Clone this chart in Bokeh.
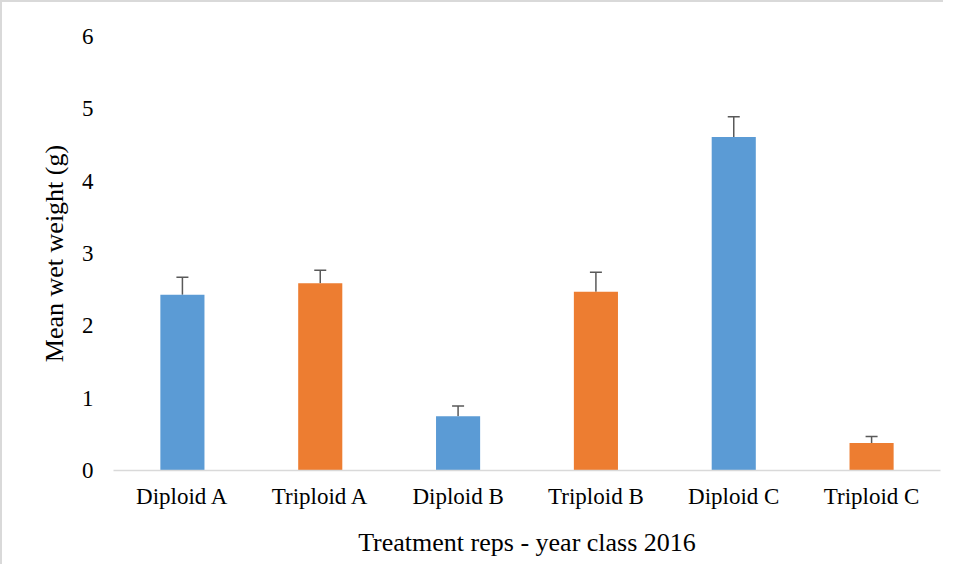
from bokeh.plotting import figure
from bokeh.models import ColumnDataSource, Range1d, Whisker, TeeHead, FixedTicker
from bokeh.embed import file_html
from bokeh.resources import INLINE

categories = ["Diploid A", "Triploid A", "Diploid B", "Triploid B", "Diploid C", "Triploid C"]
means = [2.43, 2.59, 0.75, 2.47, 4.61, 0.38]
errors = [0.24, 0.18, 0.14, 0.27, 0.28, 0.09]
colors = ["#5B9BD5", "#ED7D31", "#5B9BD5", "#ED7D31", "#5B9BD5", "#ED7D31"]
y_ticks = [0, 1, 2, 3, 4, 5, 6]

upper = [m + e for m, e in zip(means, errors)]
src = ColumnDataSource(dict(cat=categories, mean=means, upper=upper, color=colors))

FONT = "Liberation Serif"

p = figure(x_range=categories, y_range=Range1d(0, 6), width=943, height=564,
           output_backend="svg", toolbar_location=None,
           min_border_left=111, min_border_right=5, min_border_top=34, min_border_bottom=96)
p.styles = {"border-left": "2px solid #d9d9d9", "border-top": "2px solid #d9d9d9",
            "box-sizing": "border-box"}
p.outline_line_color = None
p.xgrid.grid_line_color = None
p.ygrid.grid_line_color = None
p.x_range.range_padding = 0

p.vbar(x="cat", top="mean", width=0.32, color="color", line_color=None, source=src)

wh = Whisker(base="cat", lower="mean", upper="upper", source=src,
             line_color="#595959", line_width=1.5, lower_head=None,
             upper_head=TeeHead(size=12, line_color="#595959", line_width=1.5))
p.add_layout(wh)

p.yaxis.ticker = FixedTicker(ticks=y_ticks)
p.yaxis.axis_line_color = None
p.yaxis.major_tick_line_color = None
p.yaxis.minor_tick_line_color = None
p.yaxis.major_label_text_font = FONT
p.yaxis.major_label_text_font_size = "23px"
p.yaxis.major_label_text_color = "#000000"
p.yaxis.major_label_standoff = 14
p.yaxis.axis_label = "Mean wet weight (g)"
p.yaxis.axis_label_text_font = FONT
p.yaxis.axis_label_text_font_size = "26px"
p.yaxis.axis_label_text_font_style = "normal"
p.yaxis.axis_label_text_color = "#000000"
p.yaxis.axis_label_standoff = 10

p.xaxis.axis_line_color = "#d9d9d9"
p.xaxis.axis_line_width = 1.5
p.xaxis.major_tick_line_color = None
p.xaxis.minor_tick_line_color = None
p.xaxis.major_label_text_font = FONT
p.xaxis.major_label_text_font_size = "23px"
p.xaxis.major_label_text_color = "#000000"
p.xaxis.major_label_standoff = 7
p.xaxis.axis_label = "Treatment reps - year class 2016"
p.xaxis.axis_label_text_font = FONT
p.xaxis.axis_label_text_font_size = "26px"
p.xaxis.axis_label_text_font_style = "normal"
p.xaxis.axis_label_text_color = "#000000"
p.xaxis.axis_label_standoff = 16

open("out.html", "w").write(file_html(p, INLINE))
